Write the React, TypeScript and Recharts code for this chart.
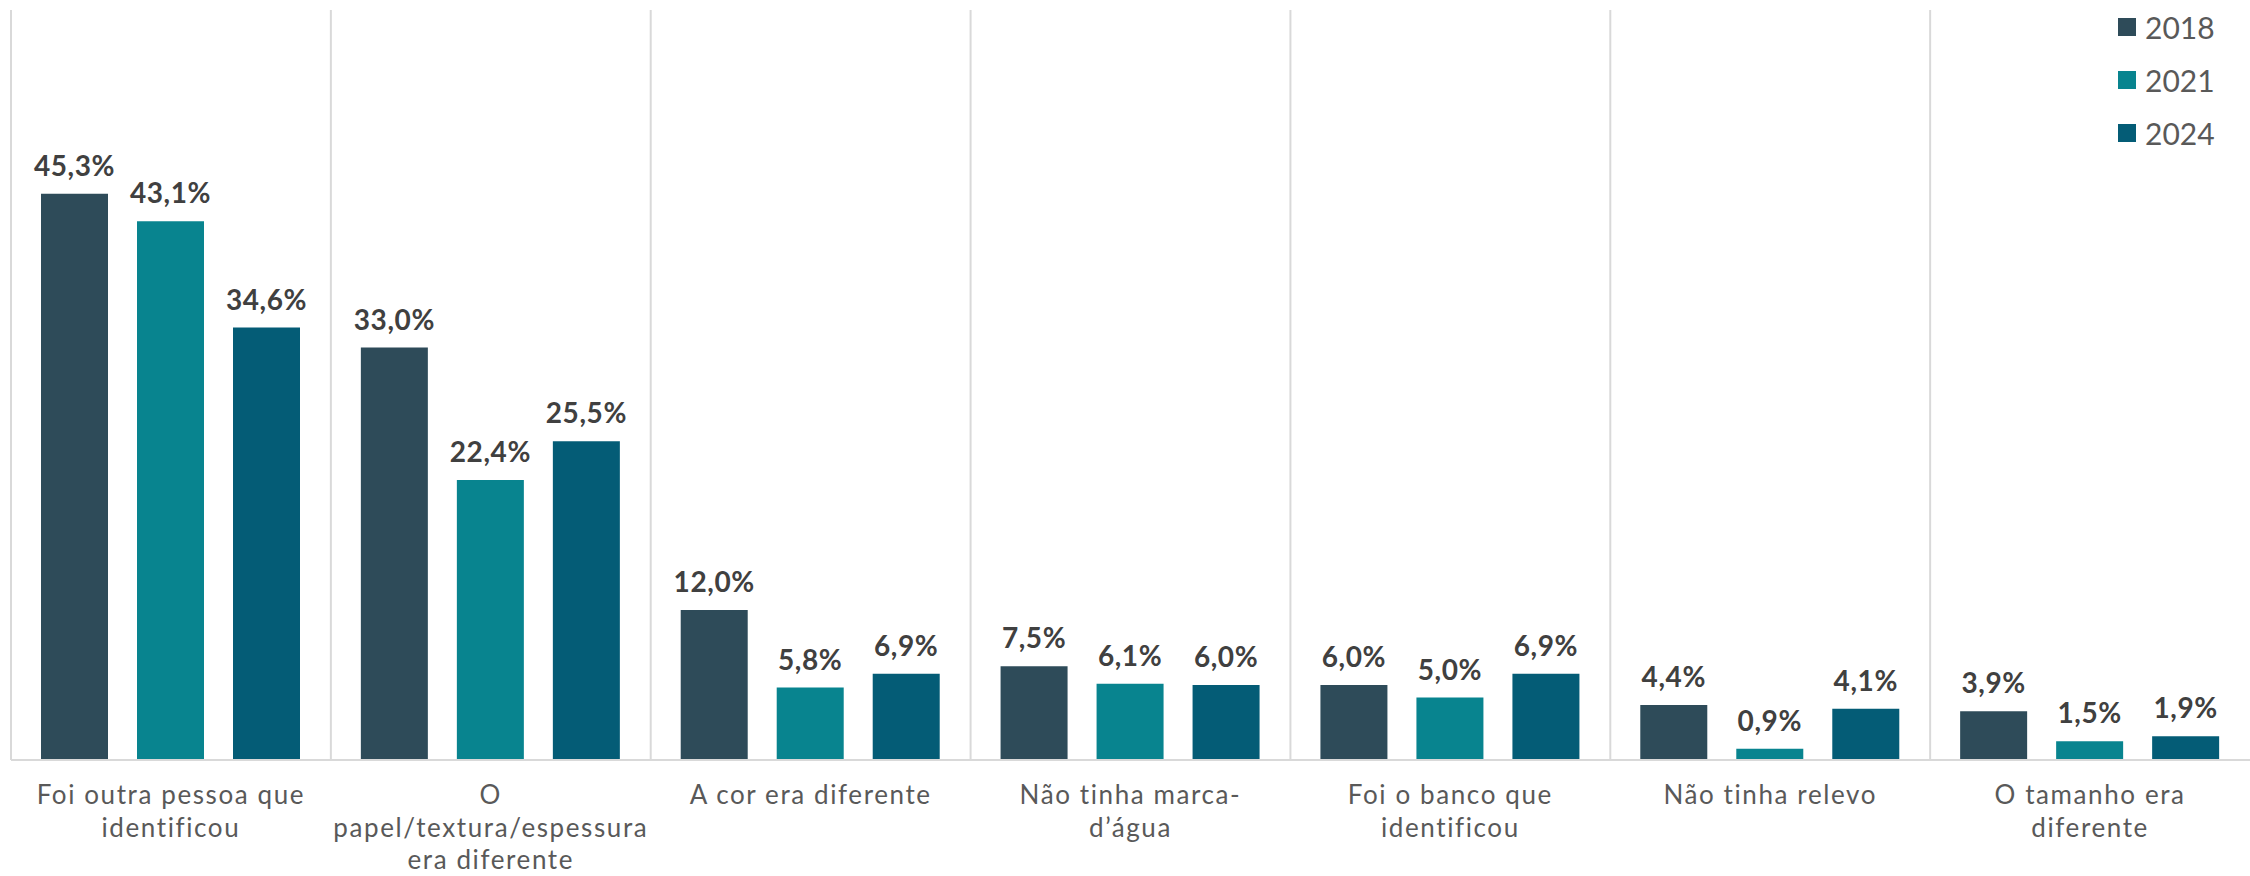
import React from 'react';
import { BarChart, Bar, XAxis, YAxis, LabelList, ReferenceLine, Legend } from 'recharts';

const categories = [
  'Foi outra pessoa que identificou',
  'O papel/textura/espessura era diferente',
  'A cor era diferente',
  'Não tinha marca-d’água',
  'Foi o banco que identificou',
  'Não tinha relevo',
  'O tamanho era diferente',
];
const categoryLines = [
  ['Foi outra pessoa que', 'identificou'],
  ['O', 'papel/textura/espessura', 'era diferente'],
  ['A cor era diferente'],
  ['Não tinha marca-', 'd’água'],
  ['Foi o banco que', 'identificou'],
  ['Não tinha relevo'],
  ['O tamanho era', 'diferente'],
];
const values2018 = [45.3, 33.0, 12.0, 7.5, 6.0, 4.4, 3.9];
const values2021 = [43.1, 22.4, 5.8, 6.1, 5.0, 0.9, 1.5];
const values2024 = [34.6, 25.5, 6.9, 6.0, 6.9, 4.1, 1.9];
const seriesNames = ['2018', '2021', '2024'];
const seriesColors = ['#2E4B59', '#08848F', '#045C76'];

const data = categories.map((name, i) => ({
  name,
  y2018: values2018[i],
  y2021: values2021[i],
  y2024: values2024[i],
}));

const fmt = (v: any) => `${Number(v).toFixed(1).replace('.', ',')}%`;

const CategoryTick = (props: any) => {
  const { x, y, payload } = props;
  const idx = categories.indexOf(payload.value);
  const lines = categoryLines[idx] || [payload.value];
  return (
    <text
      x={x}
      y={y}
      textAnchor="middle"
      fill="#595959"
      fontSize={26}
      fontFamily="Lato"
      letterSpacing={1.6}
    >
      {lines.map((l, i) => (
        <tspan key={i} x={x} dy={i === 0 ? 36 : 32.5}>
          {l}
        </tspan>
      ))}
    </text>
  );
};

const renderLegend = (props: any) => {
  const { payload } = props;
  return (
    <div style={{ display: 'flex', flexDirection: 'column' }}>
      {(payload || []).map((p: any) => (
        <div key={p.value} style={{ display: 'flex', alignItems: 'center', height: 53 }}>
          <div style={{ width: 18, height: 18, background: p.color, marginRight: 9 }} />
          <span style={{ fontFamily: 'Lato', fontSize: 30, color: '#595959' }}>{p.value}</span>
        </div>
      ))}
    </div>
  );
};

export default function App() {
  const keys = ['y2018', 'y2021', 'y2024'];
  return (
    <div style={{ position: 'absolute', left: 0, top: 0, background: '#fff' }}>
      <BarChart
        width={2250}
        height={876}
        data={data}
        margin={{ top: 10, right: 0, left: 11, bottom: 0 }}
        barCategoryGap={30}
        barGap={29}
      >
        <XAxis
          dataKey="name"
          axisLine={{ stroke: '#D9D9D9', strokeWidth: 2 }}
          tickLine={false}
          height={116}
          interval={0}
          tick={<CategoryTick />}
        />
        <YAxis hide domain={[0, 60]} />
        {categories.map((c) => (
          <ReferenceLine key={c} x={c} position="start" stroke="#D9D9D9" strokeWidth={2} />
        ))}
        <Legend
          layout="vertical"
          align="center"
          verticalAlign="middle"
          wrapperStyle={{ left: 2118, top: 0, width: 130 }}
          content={renderLegend}
        />
        {keys.map((k, i) => (
          <Bar key={k} dataKey={k} name={seriesNames[i]} fill={seriesColors[i]} isAnimationActive={false}>
            <LabelList
              dataKey={k}
              position="top"
              offset={18}
              formatter={fmt}
              fill="#404040"
              fontSize={28}
              fontWeight="bold"
              fontFamily="Lato"
              letterSpacing={0.6}
            />
          </Bar>
        ))}
      </BarChart>
    </div>
  );
}
